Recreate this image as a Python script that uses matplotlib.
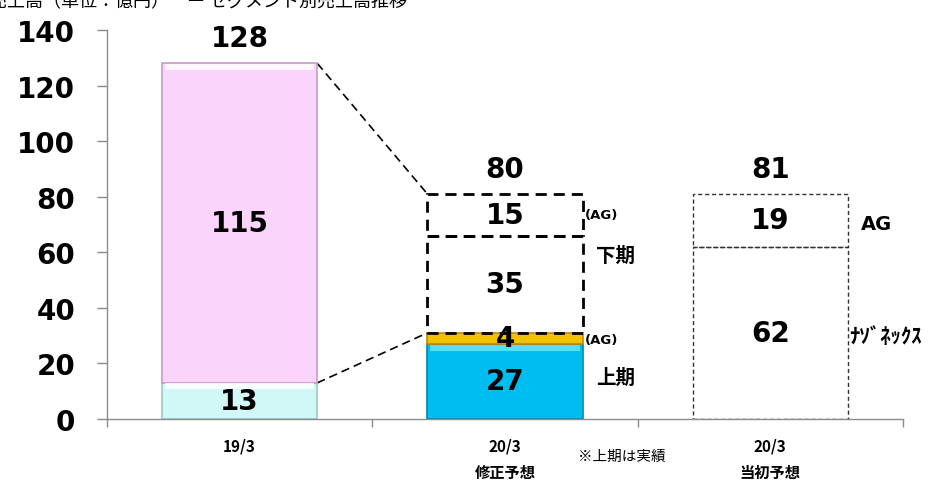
import matplotlib
matplotlib.use("Agg")
import matplotlib.pyplot as plt
import numpy as np
from matplotlib.patches import Rectangle

plt.rcParams['font.family'] = ['DejaVu Sans', 'Noto Sans CJK JP']

# ---- data ----
categories = ["19/3", "20/3\n修正予想", "20/3\n当初予想"]
fy19_segments = [13, 115]            # bottom, top
revised_first_half = [27, 4]         # 上期 (Nasonex, AG)
revised_second_half = [35, 15]       # 下期 (Nasonex, AG)
initial_plan = [62, 19]              # Nasonex, AG
totals = [128, 80, 81]
y_ticks = [0, 20, 40, 60, 80, 100, 120, 140]

JP = ['Noto Sans CJK JP', 'DejaVu Sans']

fig = plt.figure(figsize=(9.32, 4.85), dpi=100)
ax = fig.add_axes([107 / 932, 65 / 485, (903 - 107) / 932, (420 - 31) / 485])
ax.set_xlim(-0.5, len(categories) - 0.5)
ax.set_ylim(0, 140)

x = np.arange(len(categories))
width = 0.585

# pixel -> data conversion for bevel strips
ax_h_px = (420 - 31)
px = 140 / ax_h_px


def bevel_bar(xc, bottom, height, face, light, dark):
    ax.bar(xc, height, width, bottom=bottom, color=face, edgecolor=dark,
           linewidth=1.2, zorder=2)
    strip = min(6 * px, height * 0.3)
    ax.bar(xc, strip, width * 0.96, bottom=bottom + height - strip - 0.6 * px,
           color=light, linewidth=0, zorder=3, alpha=0.85)


# 19/3 bar
bevel_bar(x[0], 0, fy19_segments[0], "#D2F7F7", "#FFFFFF", "#9CC9C9")
bevel_bar(x[0], fy19_segments[0], fy19_segments[1], "#FBD4FB", "#FFFFFF", "#C79CC7")

# revised forecast: first half (actual)
bevel_bar(x[1], 0, revised_first_half[0], "#00BDEF", "#5FE6FF", "#0088B0")
ax.bar(x[1], revised_first_half[1], width, bottom=revised_first_half[0],
       color="#F2C200", edgecolor="#C08A00", linewidth=1.2, zorder=2)

# revised forecast: second half (dashed boxes)
fh_total = sum(revised_first_half)
b = fh_total
for h in revised_second_half:
    ax.add_patch(Rectangle((x[1] - width / 2, b), width, h, fill=False,
                           edgecolor="black", linewidth=2.0,
                           linestyle=(0, (4, 2.5)), zorder=4))
    b += h

# initial plan (thin dashed boxes)
b = 0
for h in initial_plan:
    ax.add_patch(Rectangle((x[2] - width / 2, b), width, h, fill=False,
                           edgecolor="#333333", linewidth=1.0,
                           linestyle=(0, (3, 2)), zorder=4))
    b += h

# connector lines between 19/3 and revised forecast
rev_top = fh_total + sum(revised_second_half)
ax.plot([x[0] + width / 2, x[1] - width / 2], [sum(fy19_segments), rev_top],
        color="black", linewidth=1.2, linestyle=(0, (5, 3)), zorder=1)
ax.plot([x[0] + width / 2, x[1] - width / 2], [fy19_segments[0], fh_total],
        color="black", linewidth=1.2, linestyle=(0, (5, 3)), zorder=1)

# value labels inside segments
num_kw = dict(ha="center", va="center", fontsize=20, fontweight="bold",
              color="black", zorder=6)
b = 0
for h in fy19_segments:
    ax.text(x[0], b + h / 2, str(h), **num_kw)
    b += h
b = 0
for h in revised_first_half + revised_second_half:
    ax.text(x[1], b + h / 2, str(h), **num_kw)
    b += h
b = 0
for h in initial_plan:
    ax.text(x[2], b + h / 2, str(h), **num_kw)
    b += h

# totals above bars
tops = [sum(fy19_segments), rev_top, sum(initial_plan)]
for xi, top, t in zip(x, tops, totals):
    ax.annotate(str(t), (xi, top), xytext=(0, 8), textcoords="offset points",
                ha="center", va="bottom", fontsize=20, fontweight="bold")

# side labels
rx1 = x[1] + width / 2
ax.text(rx1 + 0.01, fh_total + revised_second_half[0] + revised_second_half[1] / 2,
        "(AG)", fontsize=9.5, fontweight="bold", va="center", ha="left")
ax.text(rx1 + 0.01, revised_first_half[0] + revised_first_half[1] / 2 - 0.5,
        "(AG)", fontsize=9.5, fontweight="bold", va="center", ha="left")
ax.text(rx1 + 0.05, fh_total + revised_second_half[0] * 0.8,
        "下期", family=JP, fontsize=14, fontweight="bold", va="center", ha="left")
ax.text(rx1 + 0.05, revised_first_half[0] / 2 + 1.5,
        "上期", family=JP, fontsize=14, fontweight="bold", va="center", ha="left")
rx2 = x[2] + width / 2
ax.text(rx2 + 0.05, initial_plan[0] + initial_plan[1] / 2 - 1,
        "AG", fontsize=14, fontweight="bold", va="center", ha="left")
ax.text(rx2 + 0.005, initial_plan[0] / 2 - 1,
        "ﾅｿﾞﾈｯｸｽ", family=JP, fontsize=15, fontweight="bold",
        va="center", ha="left", clip_on=False)

# axes styling
for s in ["top", "right"]:
    ax.spines[s].set_visible(False)
for s in ["left", "bottom"]:
    ax.spines[s].set_color("#8C8C8C")
    ax.spines[s].set_linewidth(1.0)

ax.set_yticks(y_ticks)
ax.set_yticklabels([str(v) for v in y_ticks], fontsize=20, fontweight="bold")
ax.tick_params(axis="y", length=7, width=1, color="#8C8C8C", pad=16)

ax.set_xticks(np.arange(-0.5, len(categories)), labels=[""] * (len(categories) + 1))
ax.tick_params(axis="x", which="major", length=6, width=1, color="#8C8C8C")
ax.set_xticks(x, minor=True)
ax.set_xticklabels(categories, minor=True, family=JP, fontsize=11,
                   fontweight="bold", linespacing=1.85)
ax.tick_params(axis="x", which="minor", length=0, pad=13)

ax.text(x[1] + 0.44, -0.095, "※上期は実績", transform=ax.get_xaxis_transform(),
        family=JP, fontsize=10.5, ha="center", va="center")

# heading at the top edge
fig.text(-0.012, 1.0 - 2 / 485, "売上高（単位：億円）　ー セグメント別売上高推移",
         family=JP, fontsize=13, ha="left", va="center")

fig.savefig("out.png", dpi=100, facecolor="white")
